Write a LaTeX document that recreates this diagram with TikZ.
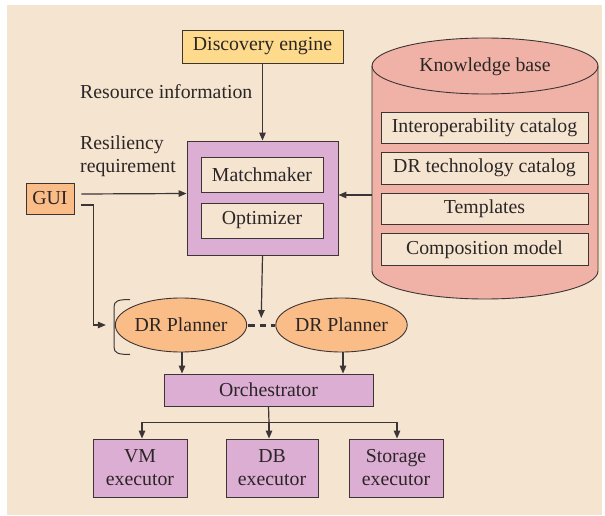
\documentclass[tikz,border=0pt]{standalone}
\usepackage{fontspec}
\setmainfont{Liberation Serif}
\usetikzlibrary{arrows.meta,calc,shapes.geometric}

\definecolor{paper}{HTML}{F5E4D0}
\definecolor{ink}{HTML}{2B2626}
\definecolor{edge}{HTML}{3C3535}
\definecolor{sun}{HTML}{FDDA8C}
\definecolor{lilac}{HTML}{DDAED3}
\definecolor{apricot}{HTML}{FABD87}
\definecolor{salmon}{HTML}{F0B2A6}

\tikzset{
  base/.style={draw=edge, line width=0.9pt, text=ink, inner sep=0pt,
    font=\fontsize{19.8}{23}\selectfont, align=center},
  box/.style={base, rectangle},
  plainbox/.style={box, fill=paper},
  oval/.style={base, ellipse, fill=apricot},
  label/.style={text=ink, inner sep=0pt, font=\fontsize{19.8}{23}\selectfont, align=left},
  arr/.style={draw=edge, line width=1.2pt, -{Triangle[length=8pt,width=6.5pt]}},
  wire/.style={draw=edge, line width=1.2pt},
}

\begin{document}
\begin{tikzpicture}[x=1pt,y=-1pt]
  % canvas
  \useasboundingbox (0,0) rectangle (605,516);
  \fill[white] (0,0) rectangle (605,516);
  \fill[paper] (7,5) rectangle (602,515);

  % knowledge base cylinder (y grows downwards here)
  \path[draw=edge, line width=0.9pt, fill=salmon]
    (372,66) -- (372,271) arc[start angle=180, end angle=0, x radius=113, y radius=28]
    -- (598,66) arc[start angle=0, end angle=-180, x radius=113, y radius=28] -- cycle;
  \draw[edge, line width=0.9pt] (372,66) arc[start angle=180, end angle=0, x radius=113, y radius=28];
  \node[label] (kbtitle) at (485,67) {Knowledge base};
  \node[plainbox, minimum width=207pt, minimum height=31pt] (interop) at (484.5,127.5) {Interoperability catalog};
  \node[plainbox, minimum width=207pt, minimum height=32pt] (drtech) at (484.5,168) {DR technology catalog};
  \node[plainbox, minimum width=207pt, minimum height=31pt] (templ) at (484.5,208.5) {Templates};
  \node[plainbox, minimum width=207pt, minimum height=32pt] (compo) at (484.5,249.5) {Composition model};
  \coordinate (kbw) at (372,195);

  % discovery and the matchmaking core
  \node[box, fill=sun, minimum width=161pt, minimum height=33pt] (disc) at (262.5,46.5) {Discovery engine};
  \node[box, fill=lilac, minimum width=151pt, minimum height=114pt] (core) at (262.5,198) {};
  \node[plainbox, minimum width=122pt, minimum height=35pt] (match) at (262,174.5) {Matchmaker};
  \node[plainbox, minimum width=122pt, minimum height=35pt] (optim) at (262,220.5) {Optimizer};

  % user input
  \node[box, fill=apricot, minimum width=48pt, minimum height=31pt] (gui) at (50,198.5) {GUI};
  \node[label, anchor=west] (resinfo) at (80,92) {Resource information};
  \node[label, anchor=west] (resreq) at (80,156.5) {Resiliency\\requirement};

  % planners
  \node[oval, minimum width=118pt, minimum height=54pt] (dr1) at (181,325) {DR Planner};
  \node[oval, minimum width=117pt, minimum height=54pt] (dr2) at (341.5,325) {DR Planner};
  \draw[edge, line width=1pt]
    (130,299.5) .. controls (118,299.5) and (114,301) .. (114,307)
    -- (114,347) .. controls (114,353) and (118,354.5) .. (130,354.5);

  % orchestration and executors
  \node[box, fill=lilac, minimum width=209pt, minimum height=32pt] (orch) at (268.5,390) {Orchestrator};
  \node[box, fill=lilac, minimum width=94pt, minimum height=58pt] (vm) at (140,468) {VM\\executor};
  \node[box, fill=lilac, minimum width=92pt, minimum height=58pt] (db) at (272,468) {DB\\executor};
  \node[box, fill=lilac, minimum width=94pt, minimum height=58pt] (st) at (396,468) {Storage\\executor};

  % connectors
  \draw[arr] (disc.south) -- (core.north);
  \draw[arr] ([xshift=7pt,yshift=4.5pt]gui.east) -- ([yshift=4.5pt]core.west);
  \draw[arr] ([xshift=7pt,yshift=-6.5pt]gui.east) -- ++(12,0) |- ([xshift=-9pt]dr1.west);
  \draw[arr] (kbw) -- (kbw -| core.east);
  \draw[arr] (core.south) -- ([yshift=7pt]$(dr1.east)!.5!(dr2.west)$);
  \draw[draw=edge, line width=3pt, dash pattern=on 6.5pt off 5pt, dash phase=-1pt] (dr1.east) -- (dr2.west);
  \draw[arr] ([xshift=1pt]dr1.south) -- ([xshift=1pt]dr1.south |- orch.north);
  \draw[arr] ([xshift=1.5pt]dr2.south) -- ([xshift=1.5pt]dr2.south |- orch.north);
  \coordinate (bus) at ($(orch.south)+(0.5,16)$);
  \draw[wire] (orch.south) -- (bus);
  \draw[arr] (bus) -| ([xshift=2pt]vm.north);
  \draw[arr] (bus) -- (bus |- db.north);
  \draw[arr] (bus) -| ([xshift=1pt]st.north);
\end{tikzpicture}
\end{document}
